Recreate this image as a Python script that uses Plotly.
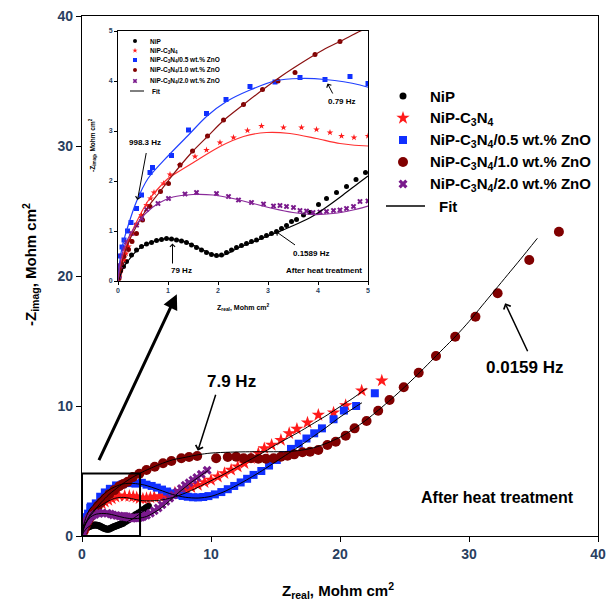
import plotly.graph_objects as go

# ---------------- data (Z_real, -Z_imag in Mohm cm^2) ----------------
nip_x = [0.02, 0.05, 0.11, 0.17, 0.27, 0.37, 0.47, 0.57, 0.67, 0.77, 0.87, 0.97, 1.07, 1.17, 1.27,
         1.37, 1.47, 1.57, 1.67, 1.77, 1.87, 1.97, 2.07, 2.17, 2.27, 2.37, 2.47, 2.57, 2.67, 2.77,
         2.87, 2.97, 3.07, 3.17, 3.27, 3.37, 3.47, 3.57, 3.71, 3.84, 4.01, 4.17, 4.37, 4.57, 4.76,
         4.95, 5.15]
nip_y = [0.09, 0.2, 0.29, 0.39, 0.52, 0.62, 0.69, 0.74, 0.77, 0.81, 0.83, 0.85, 0.84, 0.82, 0.8,
         0.77, 0.72, 0.67, 0.62, 0.57, 0.53, 0.51, 0.52, 0.57, 0.62, 0.67, 0.71, 0.75, 0.79, 0.82,
         0.87, 0.91, 0.95, 0.99, 1.05, 1.11, 1.19, 1.23, 1.32, 1.37, 1.53, 1.65, 1.77, 1.89, 2.03,
         2.17, 2.3]

c3n4_x = [0.02, 0.04, 0.07, 0.12, 0.16, 0.21, 0.25, 0.31, 0.37, 0.47, 0.57, 0.65, 0.72, 0.91, 1.04,
          1.24, 1.54, 1.77, 2.04, 2.31, 2.59, 2.87, 3.31, 3.67, 3.97, 4.24, 4.47, 4.72, 5.0, 5.3,
          5.6, 6.0, 6.4, 6.8, 7.2, 7.6, 8.08, 8.47, 8.98, 9.5, 10.0, 10.53, 11.04, 11.56, 12.07,
          12.59, 13.1, 13.67, 14.13, 14.7, 15.42, 16.06, 16.66, 17.48, 18.32, 19.5, 20.44, 21.68,
          23.24]
c3n4_y = [0.08, 0.15, 0.25, 0.42, 0.55, 0.69, 0.82, 0.95, 1.12, 1.32, 1.52, 1.65, 1.77, 1.95, 2.13,
          2.32, 2.49, 2.62, 2.77, 2.87, 3.01, 3.1, 3.07, 3.07, 3.03, 2.97, 2.9, 2.87, 2.9, 2.95,
          3.0, 3.05, 3.12, 3.22, 3.33, 3.45, 3.6, 3.75, 3.92, 4.13, 4.31, 4.56, 4.82, 5.08, 5.33,
          5.59, 5.98, 6.36, 6.74, 7.0, 7.38, 7.9, 8.23, 8.72, 9.31, 9.48, 10.05, 11.18, 11.95]

zn05_x = [0.01, 0.03, 0.05, 0.08, 0.12, 0.19, 0.26, 0.37, 0.47, 0.64, 0.69, 1.07, 1.41, 1.77, 2.16,
          2.64, 3.14, 3.64, 4.14, 4.64, 5.0, 5.4, 5.8, 6.2, 6.6, 7.0, 7.4, 7.8, 8.2, 8.6, 9.0, 9.4,
          9.8, 10.3, 10.8, 11.3, 11.8, 12.3, 12.8, 13.3, 13.9, 14.5, 15.1, 15.6, 16.2, 16.8, 17.4,
          18.0, 18.6, 19.5, 20.3, 21.25, 22.7]
zn05_y = [0.08, 0.3, 0.5, 0.68, 0.82, 1.0, 1.17, 1.45, 1.72, 2.17, 2.27, 2.51, 3.02, 3.35, 3.63,
          3.89, 3.98, 4.07, 4.03, 4.09, 3.95, 3.85, 3.72, 3.57, 3.42, 3.28, 3.17, 3.08, 3.02, 2.98,
          2.97, 3.0, 3.07, 3.2, 3.38, 3.6, 3.85, 4.12, 4.4, 4.7, 5.0, 5.42, 5.85, 6.22, 6.7, 7.1,
          7.5, 7.9, 8.28, 8.98, 9.65, 10.0, 10.98]

zn10_x = [0.02, 0.04, 0.07, 0.12, 0.21, 0.28, 0.37, 0.49, 0.64, 0.85, 1.01, 1.24, 1.49, 1.79, 2.11,
          2.51, 2.89, 3.2, 3.54, 3.94, 4.44, 5.0, 5.64, 6.28, 6.93, 7.7, 8.3, 8.93, 10.4, 11.3,
          11.95, 12.53, 13.1, 13.67, 14.26, 14.85, 15.42, 15.93, 16.45, 17.09, 17.68, 18.32, 19.02,
          19.67, 20.44, 21.13, 22.06, 22.96, 23.84, 24.94, 26.1, 27.44, 28.93, 30.5, 32.22, 34.67,
          36.97]
zn10_y = [0.05, 0.22, 0.35, 0.49, 0.63, 0.79, 0.95, 1.22, 1.49, 1.79, 1.95, 2.32, 2.6, 2.9, 3.22,
          3.53, 3.83, 4.0, 4.17, 4.53, 4.79, 5.08, 5.33, 5.59, 5.77, 5.98, 6.08, 6.15, 5.98, 6.08,
          6.1, 5.98, 5.98, 5.95, 5.95, 5.98, 6.1, 6.18, 6.28, 6.44, 6.48, 6.62, 7.0, 7.25, 7.72,
          8.28, 8.85, 9.64, 10.46, 11.44, 12.56, 13.85, 15.33, 16.87, 18.67, 21.23, 23.41]

zn20_x = [0.02, 0.04, 0.07, 0.12, 0.17, 0.27, 0.37, 0.47, 0.57, 0.8, 1.01, 1.34, 1.57, 1.97, 2.21,
          2.41, 2.67, 2.91, 3.11, 3.24, 3.37, 3.51, 3.64, 3.77, 3.9, 4.04, 4.17, 4.31, 4.44, 4.57,
          4.71, 4.84, 5.0, 5.3, 5.6, 5.9, 6.2, 6.5, 6.8, 7.1, 7.4, 7.7, 8.0, 8.3, 8.6, 8.9, 9.24,
          9.7]
zn20_y = [0.1, 0.3, 0.5, 0.65, 0.78, 0.95, 1.12, 1.25, 1.43, 1.55, 1.65, 1.74, 1.77, 1.75, 1.69,
          1.62, 1.57, 1.54, 1.5, 1.51, 1.49, 1.47, 1.41, 1.4, 1.37, 1.38, 1.39, 1.41, 1.42, 1.45,
          1.49, 1.59, 1.6, 1.75, 1.95, 2.15, 2.4, 2.65, 2.9, 3.15, 3.4, 3.65, 3.9, 4.1, 4.3, 4.5,
          4.75, 5.05]

# fitted curves
fit_nip_x = [0, 0.05, 0.1, 0.2, 0.35, 0.5, 0.7, 0.9, 1.1, 1.3, 1.5, 1.7, 1.9, 2.05, 2.2, 2.4, 2.7,
             3.0, 3.3, 3.6, 3.9, 4.2, 4.5, 4.8, 5.0]
fit_nip_y = [0, 0.12, 0.25, 0.4, 0.58, 0.7, 0.79, 0.84, 0.84, 0.8, 0.72, 0.62, 0.53, 0.5, 0.55,
             0.66, 0.78, 0.9, 1.02, 1.15, 1.3, 1.5, 1.72, 1.95, 2.1]

fit_c3n4_x = [0, 0.05, 0.1, 0.2, 0.37, 0.6, 0.85, 1.0, 1.54, 2.04, 2.51, 2.97, 3.44, 3.97, 4.44,
              5.0, 6, 7, 8, 9, 10, 11, 12, 13, 14, 15, 16, 17, 18, 19, 20, 21, 22.06]
fit_c3n4_y = [0, 0.3, 0.5, 0.8, 1.18, 1.6, 1.9, 2.05, 2.39, 2.69, 2.89, 2.97, 2.95, 2.85, 2.75,
              2.7, 2.75, 2.95, 3.3, 3.75, 4.25, 4.75, 5.3, 5.85, 6.4, 7.0, 7.55, 8.1, 8.7, 9.3,
              9.95, 10.6, 11.36]

fit_zn05_x = [0, 0.05, 0.1, 0.2, 0.37, 0.6, 1.0, 1.41, 1.77, 2.17, 2.64, 3.14, 3.64, 4.14, 4.84,
              6, 7, 8, 9, 10, 11, 12, 13, 14, 15, 16, 17, 18, 19, 20, 21, 21.7]
fit_zn05_y = [0, 0.5, 0.75, 1.1, 1.59, 2.05, 2.5, 2.92, 3.29, 3.59, 3.82, 4.0, 4.05, 4.03, 3.92,
              3.55, 3.2, 2.98, 2.92, 3.05, 3.4, 3.9, 4.45, 5.05, 5.7, 6.35, 7.0, 7.7, 8.4, 9.15,
              9.8, 10.25]

fit_zn10_x = [0, 0.1, 0.2, 0.4, 0.6, 0.85, 1.0, 1.24, 1.5, 1.8, 2.1, 2.5, 2.9, 3.3, 3.7, 4.1, 4.5,
              4.85, 6, 7, 8, 9, 10, 11.5, 13, 14.5, 16, 17, 18, 19, 20, 21, 22, 23, 24, 25, 26,
              27, 28, 29, 30, 31, 32, 33, 34, 35.3]
fit_zn10_y = [0, 0.45, 0.75, 1.15, 1.48, 1.8, 2.0, 2.3, 2.6, 2.9, 3.2, 3.52, 3.83, 4.12, 4.38,
              4.62, 4.82, 5.0, 5.5, 5.85, 6.05, 6.25, 6.38, 6.45, 6.48, 6.48, 6.5, 6.6, 6.8, 7.15,
              7.6, 8.2, 8.9, 9.7, 10.55, 11.45, 12.4, 13.4, 14.4, 15.4, 16.5, 17.7, 18.9, 20.1,
              21.3, 22.9]

fit_zn20_x = [0, 0.05, 0.1, 0.2, 0.35, 0.55, 0.8, 1.1, 1.5, 1.9, 2.3, 2.7, 3.1, 3.5, 3.9, 4.3,
              4.7, 5.0, 5.5, 6.0, 6.5, 7.0, 7.5, 8.0, 8.5, 9.0, 9.5, 9.8]
fit_zn20_y = [0, 0.4, 0.6, 0.85, 1.1, 1.35, 1.55, 1.68, 1.73, 1.72, 1.65, 1.55, 1.45, 1.37, 1.33,
              1.35, 1.42, 1.5, 1.75, 2.05, 2.45, 2.9, 3.35, 3.75, 4.15, 4.5, 4.85, 5.05]

series_names = ["NiP", "NiP-C<sub>3</sub>N<sub>4</sub>", "NiP-C<sub>3</sub>N<sub>4</sub>/0.5 wt.% ZnO",
                "NiP-C<sub>3</sub>N<sub>4</sub>/1.0 wt.% ZnO", "NiP-C<sub>3</sub>N<sub>4</sub>/2.0 wt.% ZnO"]
main_ticks = [0, 10, 20, 30, 40]
inset_ticks = [0, 1, 2, 3, 4, 5]

# ---------------- styling ----------------
FONT = "Arial, Liberation Sans, sans-serif"
colors = ["#000000", "#ff1a1a", "#1030ff", "#800000", "#7a1a8c"]
line_colors = ["#000000", "#ff3030", "#2040ff", "#8b1010", "#8a2a9a"]
symbols = ["circle", "star", "square", "circle", "x"]
main_sizes = [7, 10, 8, 10, 8]
inset_sizes = [5, 5, 5, 5, 5]

data = [(nip_x, nip_y), (c3n4_x, c3n4_y), (zn05_x, zn05_y), (zn10_x, zn10_y), (zn20_x, zn20_y)]
fits = [(fit_nip_x, fit_nip_y), (fit_c3n4_x, fit_c3n4_y), (fit_zn05_x, fit_zn05_y),
        (fit_zn10_x, fit_zn10_y), (fit_zn20_x, fit_zn20_y)]

fig = go.Figure()

# main plot
for i, (xs, ys) in enumerate(data):
    fig.add_trace(go.Scatter(x=xs, y=ys, mode="markers", xaxis="x", yaxis="y",
                             marker=dict(symbol=symbols[i], size=main_sizes[i], color=colors[i],
                                         line=dict(width=0)),
                             showlegend=False, hoverinfo="skip"))
for i, (xs, ys) in enumerate(fits):
    fig.add_trace(go.Scatter(x=xs, y=ys, mode="lines", xaxis="x", yaxis="y",
                             line=dict(color="black", width=1, shape="spline", smoothing=0.8),
                             showlegend=False, hoverinfo="skip"))

# inset
for i, (xs, ys) in enumerate(data):
    fig.add_trace(go.Scatter(x=xs, y=ys, mode="markers", xaxis="x2", yaxis="y2",
                             marker=dict(symbol=symbols[i], size=inset_sizes[i], color=colors[i],
                                         line=dict(width=0)),
                             showlegend=False, hoverinfo="skip"))
for i, (xs, ys) in enumerate(fits):
    fig.add_trace(go.Scatter(x=xs, y=ys, mode="lines", xaxis="x2", yaxis="y2",
                             line=dict(color=line_colors[i], width=1.2, shape="spline", smoothing=0.8),
                             showlegend=False, hoverinfo="skip"))

# ---------------- manual legends (pixel axis x3/y3) ----------------
main_leg_rows = [96 + 22 * k for k in range(6)]
inset_leg_rows = [41, 50.5, 60, 70, 81, 91]
for i in range(5):
    fig.add_trace(go.Scatter(x=[403], y=[main_leg_rows[i]], mode="markers", xaxis="x3", yaxis="y3",
                             marker=dict(symbol=symbols[i], size=main_sizes[i], color=colors[i]),
                             showlegend=False, hoverinfo="skip"))
    fig.add_trace(go.Scatter(x=[135], y=[inset_leg_rows[i]], mode="markers", xaxis="x3", yaxis="y3",
                             marker=dict(symbol=symbols[i], size=4, color=colors[i]),
                             showlegend=False, hoverinfo="skip"))
fig.add_trace(go.Scatter(x=[386, 425], y=[main_leg_rows[5]] * 2, mode="lines", xaxis="x3", yaxis="y3",
                         line=dict(color="black", width=1.5), showlegend=False, hoverinfo="skip"))
fig.add_trace(go.Scatter(x=[130, 144], y=[inset_leg_rows[5]] * 2, mode="lines", xaxis="x3", yaxis="y3",
                         line=dict(color="black", width=1), showlegend=False, hoverinfo="skip"))

ann = []
def txt(x, y, s, size, ref=("x3", "y3"), xanchor="center", angle=0):
    ann.append(dict(x=x, y=y, xref=ref[0], yref=ref[1], text="<b>" + s + "</b>", showarrow=False,
                    xanchor=xanchor, yanchor="middle", textangle=angle,
                    font=dict(family=FONT, size=size, color="black")))

def arrow(x0, y0, x1, y1, ref, width=1.3, head=4, size=1.0):
    ann.append(dict(x=x1, y=y1, ax=x0, ay=y0, xref=ref[0], yref=ref[1], axref=ref[0], ayref=ref[1],
                    text="", showarrow=True, arrowhead=head, arrowsize=size, arrowwidth=width,
                    arrowcolor="black", standoff=0, startstandoff=0))

labels_main = series_names + ["Fit"]
for i in range(5):
    txt(428, main_leg_rows[i], labels_main[i], 15, xanchor="left")
    txt(148, inset_leg_rows[i], labels_main[i], 6.5, xanchor="left")
txt(437, main_leg_rows[5], "Fit", 15, xanchor="left")
txt(150, inset_leg_rows[5], "Fit", 6.5, xanchor="left")

# axis titles
txt(338, 590, "Z<sub>real</sub>, Mohm cm<sup>2</sup>", 15)
txt(30, 265, "-Z<sub>imag</sub>, Mohm cm<sup>2</sup>", 15, angle=-90)
txt(243, 307, "Z<sub>real</sub>, Mohm cm<sup>2</sup>", 7)
txt(92, 145, "-Z<sub>imag</sub>, Mohm cm<sup>2</sup>", 6.5, angle=-90)

# main annotations
txt(11.58, 11.92, "7.9 Hz", 17, ref=("x", "y"))
arrow(10.4, 10.98, 8.98, 6.55, ("x", "y"), width=1.5)
txt(34.36, 13.0, "0.0159 Hz", 17, ref=("x", "y"))
arrow(34.6, 14.1, 32.8, 17.9, ("x", "y"), width=1.5)
txt(32.2, 3.0, "After heat treatment", 16, ref=("x", "y"))
arrow(1.26, 5.72, 7.35, 18.6, ("x", "y"), width=3, head=2, size=1.0)

# inset annotations
txt(0.54, 2.78, "998.3 Hz", 8, ref=("x2", "y2"))
arrow(0.57, 2.59, 0.39, 1.62, ("x2", "y2"), width=1)
txt(4.48, 3.6, "0.79 Hz", 8, ref=("x2", "y2"))
arrow(4.31, 3.72, 4.19, 3.95, ("x2", "y2"), width=1)
txt(1.27, 0.22, "79 Hz", 8, ref=("x2", "y2"))
arrow(1.09, 0.32, 1.09, 0.75, ("x2", "y2"), width=1)
txt(3.86, 0.55, "0.1589 Hz", 8, ref=("x2", "y2"))
arrow(3.57, 0.7, 3.16, 0.99, ("x2", "y2"), width=1)
txt(4.12, 0.22, "After heat treatment", 8, ref=("x2", "y2"))

W, H = 607, 605
axis_common = dict(showgrid=False, zeroline=False, showline=True, linecolor="black", mirror=True,
                   ticks="outside", tickcolor="black", automargin=False)
fig.update_layout(
    width=W, height=H, margin=dict(l=0, r=0, t=0, b=0, pad=0, autoexpand=False), autosize=False,
    paper_bgcolor="white", plot_bgcolor="rgba(0,0,0,0)", showlegend=False,
    xaxis=dict(domain=[82 / W, 598 / W], range=[0, 40], anchor="y", tickvals=main_ticks,
               ticklen=5, linewidth=1.2, tickfont=dict(family=FONT, size=14, weight="bold"),
               **axis_common),
    yaxis=dict(domain=[(H - 536) / H, (H - 16) / H], range=[0, 40], anchor="x", tickvals=main_ticks,
               ticklen=5, linewidth=1.2, tickfont=dict(family=FONT, size=14, weight="bold"),
               **axis_common),
    xaxis2=dict(domain=[118 / W, 368 / W], range=[0, 5], anchor="y2", tickvals=inset_ticks,
                ticklen=3, linewidth=1, tickfont=dict(family=FONT, size=7, weight="bold"),
                **axis_common),
    yaxis2=dict(domain=[(H - 281) / H, (H - 31) / H], range=[0, 5], anchor="x2", tickvals=inset_ticks,
                ticklen=3, linewidth=1, tickfont=dict(family=FONT, size=7, weight="bold"),
                **axis_common),
    xaxis3=dict(domain=[0, 1], range=[0, W], anchor="y3", visible=False, fixedrange=True,
                automargin=False),
    yaxis3=dict(domain=[0, 1], range=[H, 0], anchor="x3", visible=False, fixedrange=True,
                automargin=False),
    annotations=ann,
    shapes=[dict(type="rect", xref="x", yref="y", x0=0, y0=0, x1=4.5, y1=4.8,
                 line=dict(color="black", width=2), layer="above")],
)

fig.write_html("out.html", config={"displayModeBar": False},
               post_script="document.body.style.margin='0';document.body.style.overflow='hidden';")
